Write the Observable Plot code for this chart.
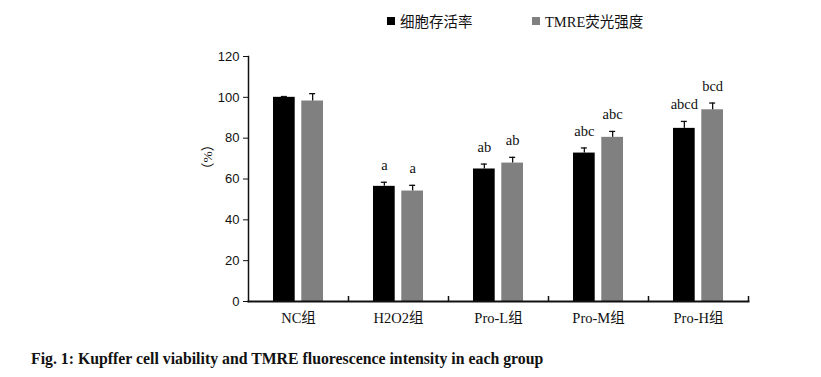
<!DOCTYPE html>
<html>
<head>
<meta charset="utf-8">
<script src="https://cdn.jsdelivr.net/npm/d3@7"></script>
<script src="https://cdn.jsdelivr.net/npm/@observablehq/plot@0.6"></script>
<style>
  body { margin: 0; background: #fff; }
  #wrap { position: relative; width: 821px; height: 377px; overflow: hidden; font-family: 'Liberation Serif', 'Noto Sans CJK SC', serif; }
  #chart { position: absolute; left: 0; top: 0; }
  .legend { position: absolute; top: 10px; font-size: 14.5px; color: #111; display: flex; align-items: center; white-space: nowrap; }
  .legend .sw { display: inline-block; width: 8px; height: 8px; margin-right: 5px; }
  #caption { position: absolute; left: 31px; top: 350px; font-weight: bold; font-size: 15.8px; color: #111; white-space: nowrap; }
</style>
</head>
<body>
<div id="wrap">
  <div id="chart"></div>
  <div id="legend"></div>
  <div id="caption">Fig. 1: Kupffer cell viability and TMRE fluorescence intensity in each group</div>
</div>
<script>
// ---- data ----
const categories = ["NC组", "H2O2组", "Pro-L组", "Pro-M组", "Pro-H组"];
const seriesNames = ["细胞存活率", "TMRE荧光强度"];
const seriesColors = ["#000000", "#808080"];
const viability = [100, 56.4, 64.9, 72.7, 84.8];
const viabilitySD = [0.4, 2.0, 2.4, 2.5, 3.4];
const tmre = [98.2, 54.1, 67.8, 80.4, 93.9];
const tmreSD = [3.6, 2.8, 2.8, 2.9, 3.3];
const viabilityLetters = ["", "a", "ab", "abc", "abcd"];
const tmreLetters = ["", "a", "ab", "abc", "bcd"];
const yTicks = [0, 20, 40, 60, 80, 100, 120];
const yLabel = "（%）";

// ---- table ----
const rowsV = categories.map((c, i) => ({group: c, value: viability[i], sd: viabilitySD[i], letter: viabilityLetters[i]}));
const rowsT = categories.map((c, i) => ({group: c, value: tmre[i], sd: tmreSD[i], letter: tmreLetters[i]}));

const bandW = 50;       // px band width
const barW = 21.7;      // px bar width
const inset = bandW - barW;
const off = (bandW - barW) / 2; // bar centre offset from band centre
const capHalf = 3;
const serif = "'Liberation Serif', 'Noto Sans CJK SC', serif";
const sans = "'Liberation Sans', 'DejaVu Sans', sans-serif";

const plot = Plot.plot({
  width: 821,
  height: 340,
  marginLeft: 248,
  marginRight: 73,
  marginTop: 56,
  marginBottom: 39,
  style: {fontFamily: serif, fontSize: "14px", color: "#111", background: "transparent"},
  x: {domain: categories, paddingInner: 0.5, paddingOuter: 0.25, label: null, axis: null},
  y: {domain: [0, 120], label: null, axis: null},
  marks: [
    Plot.axisY({ticks: yTicks, tickSize: 5, tickPadding: 4, tickFormat: d => d, label: null, fontSize: 13, fontFamily: sans}),
    Plot.axisX({tickSize: 0, tickPadding: 11, label: null, fontSize: 14.5}),
    Plot.barY(rowsV, {x: "group", y: "value", fill: seriesColors[0], insetRight: inset}),
    Plot.barY(rowsT, {x: "group", y: "value", fill: seriesColors[1], insetLeft: inset}),
    Plot.ruleX(rowsV, {x: "group", y1: "value", y2: d => d.value + d.sd, dx: -off, stroke: "#111", strokeWidth: 1.3}),
    Plot.ruleX(rowsT, {x: "group", y1: "value", y2: d => d.value + d.sd, dx: off, stroke: "#111", strokeWidth: 1.3}),
    Plot.tickY(rowsV, {x: "group", y: d => d.value + d.sd, insetLeft: barW / 2 - capHalf, insetRight: bandW - barW / 2 - capHalf, stroke: "#111", strokeWidth: 1.3}),
    Plot.tickY(rowsT, {x: "group", y: d => d.value + d.sd, insetLeft: bandW - barW / 2 - capHalf, insetRight: barW / 2 - capHalf, stroke: "#111", strokeWidth: 1.3}),
    Plot.text(rowsV, {x: "group", y: d => d.value + d.sd, text: "letter", dx: -off, dy: -12, lineAnchor: "bottom", fontSize: 14.5, fill: "#111"}),
    Plot.text(rowsT, {x: "group", y: d => d.value + d.sd, text: "letter", dx: off, dy: -12, lineAnchor: "bottom", fontSize: 14.5, fill: "#111"}),
    Plot.frame({anchor: "left", stroke: "#111", strokeWidth: 1.5}),
    Plot.frame({anchor: "bottom", stroke: "#111", strokeWidth: 2}),
    Plot.ruleX(categories, {x: d => d, y1: 0, y2: 0, dx: 50, insetTop: -5, stroke: "#111", strokeWidth: 1.5}),
    Plot.text([yLabel], {frameAnchor: "left", dx: -41, dy: -3, rotate: -90, fontSize: 13.5, fill: "#111"})
  ]
});
document.getElementById("chart").appendChild(plot);

// ---- legend ----
const legend = document.getElementById("legend");
const legendX = [387, 532];
seriesNames.forEach((name, i) => {
  const item = document.createElement("div");
  item.className = "legend";
  item.style.left = legendX[i] + "px";
  const sw = document.createElement("span");
  sw.className = "sw";
  sw.style.background = seriesColors[i];
  item.appendChild(sw);
  item.appendChild(document.createTextNode(name));
  legend.appendChild(item);
});
</script>
</body>
</html>
